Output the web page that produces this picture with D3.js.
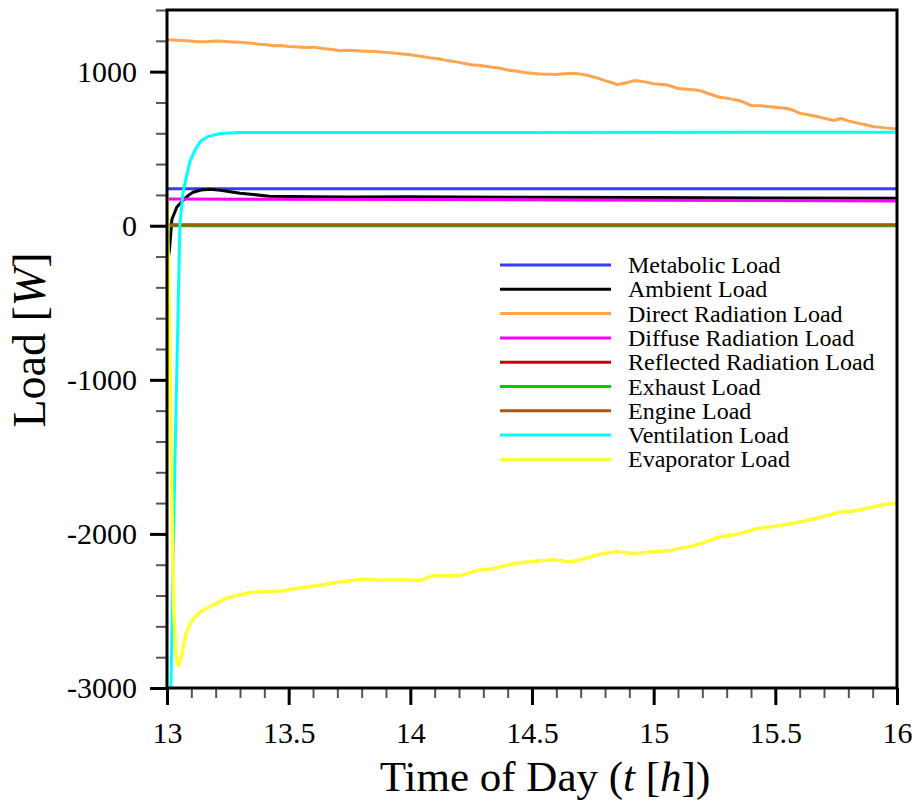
<!DOCTYPE html>
<html>
<head>
<meta charset="utf-8">
<script src="https://cdn.jsdelivr.net/npm/d3@7"></script>
<style>
  body { margin: 0; background: #fff; }
  text { font-family: "Liberation Serif", "Times New Roman", serif; fill: #000; }
</style>
</head>
<body>
<div id="chart-area"></div>
<script>
//============================DATA============================
var seriesNames = ["Metabolic Load", "Ambient Load", "Direct Radiation Load", "Diffuse Radiation Load",
    "Reflected Radiation Load", "Exhaust Load", "Engine Load", "Ventilation Load", "Evaporator Load"];
var seriesColors = ["#3a3aff", "#000000", "#ffa54f", "#ff00ff", "#cc0000", "#00cc00", "#a5580f", "#00ffff", "#ffff33"];

// [time of day (h), load (W)]
var metabolic = [[13.0, 240], [16.0, 240]];
var ambient = [[13.0, -260], [13.01, -160], [13.02, 40], [13.04, 120], [13.066, 165], [13.09, 200], [13.107, 217],
    [13.14, 232], [13.177, 237], [13.22, 230], [13.3, 211], [13.42, 192], [13.6, 188], [13.75, 186], [14.0, 188],
    [14.5, 185], [15.0, 183], [15.5, 180], [16.0, 178]];
var direct = [[13.0, 1207], [13.04, 1203], [13.08, 1200], [13.12, 1196], [13.16, 1194], [13.2, 1199], [13.23, 1197],
    [13.27, 1193], [13.3, 1190], [13.34, 1186], [13.37, 1180], [13.41, 1175], [13.44, 1168], [13.47, 1170],
    [13.5, 1163], [13.54, 1160], [13.57, 1157], [13.6, 1159], [13.64, 1150], [13.68, 1144], [13.71, 1136],
    [13.75, 1138], [13.8, 1134], [13.85, 1130], [13.9, 1125], [13.95, 1118], [14.0, 1110], [14.04, 1100],
    [14.08, 1090], [14.12, 1082], [14.16, 1070], [14.2, 1060], [14.25, 1045], [14.29, 1040], [14.33, 1030],
    [14.37, 1022], [14.4, 1010], [14.44, 1003], [14.47, 995], [14.5, 990], [14.53, 985], [14.57, 983],
    [14.6, 981], [14.63, 986], [14.67, 990], [14.7, 984], [14.73, 975], [14.77, 958], [14.8, 942], [14.83, 928],
    [14.85, 916], [14.88, 925], [14.92, 942], [14.96, 935], [15.0, 922], [15.05, 915], [15.08, 902], [15.1, 890],
    [15.15, 884], [15.19, 877], [15.23, 855], [15.27, 834], [15.31, 825], [15.35, 813], [15.38, 795], [15.4, 780],
    [15.44, 778], [15.47, 774], [15.51, 768], [15.55, 761], [15.58, 745], [15.6, 730], [15.64, 718], [15.68, 705],
    [15.71, 694], [15.74, 683], [15.77, 696], [15.8, 680], [15.84, 666], [15.87, 655], [15.9, 644], [15.95, 635],
    [16.0, 628]];
var diffuse = [[13.0, 173], [14.0, 170], [15.0, 166], [16.0, 160]];
var reflected = [[13.0, 4], [16.0, 4]];
var exhaust = [[13.0, 0], [16.0, 0]];
var engine = [[13.0, 5], [16.0, 5]];
var ventilation = [[13.0, -4200], [13.016, -3000], [13.033, -1500], [13.045, -600], [13.053, 0], [13.066, 220],
    [13.08, 320], [13.095, 420], [13.115, 490], [13.136, 545], [13.17, 580], [13.22, 598], [13.3, 605], [16.0, 607]];
var evaporator = [[13.0, 200], [13.005, -200], [13.012, -900], [13.02, -1800], [13.028, -2500], [13.036, -2780],
    [13.047, -2855], [13.056, -2820], [13.066, -2740], [13.08, -2640], [13.1, -2570], [13.12, -2530], [13.14, -2504],
    [13.18, -2470], [13.24, -2420], [13.3, -2395], [13.34, -2380], [13.4, -2375], [13.47, -2370], [13.55, -2350],
    [13.64, -2330], [13.72, -2310], [13.8, -2295], [13.88, -2300], [13.96, -2297], [14.04, -2303], [14.09, -2272],
    [14.2, -2272], [14.29, -2232], [14.34, -2226], [14.42, -2194], [14.48, -2182], [14.59, -2168], [14.66, -2182],
    [14.72, -2160], [14.78, -2130], [14.85, -2116], [14.92, -2128], [14.99, -2115], [15.06, -2110], [15.14, -2084],
    [15.2, -2060], [15.27, -2020], [15.35, -2000], [15.42, -1968], [15.5, -1950], [15.6, -1922], [15.68, -1895],
    [15.76, -1860], [15.83, -1850], [15.9, -1826], [15.95, -1808], [16.0, -1800]];
var seriesData = [metabolic, ambient, direct, diffuse, reflected, exhaust, engine, ventilation, evaporator];

var xMajorTicks = [13, 13.5, 14, 14.5, 15, 15.5, 16];
var yMajorTicks = [-3000, -2000, -1000, 0, 1000];

//============================LAYOUT============================
var margins = { left: 167, right: 20, top: 10, bottom: 116 };
var width = 917 - margins.left - margins.right;
var height = 804 - margins.top - margins.bottom;

var svg = d3.select("#chart-area")
    .append("svg")
    .attr("width", 917)
    .attr("height", 804);

var g = svg.append("g")
    .attr("transform", "translate(" + margins.left + ", " + margins.top + ")");

var x = d3.scaleLinear().domain([13, 16]).range([0, width]);
var y = d3.scaleLinear().domain([-3000, 1400]).range([height, 0]);

g.append("clipPath").attr("id", "plot-clip")
    .append("rect").attr("width", width).attr("height", height);

// lines
var line = d3.line()
    .x(function(d){ return x(d[0]); })
    .y(function(d){ return y(d[1]); });

g.append("g").attr("clip-path", "url(#plot-clip)")
    .selectAll("path")
    .data(seriesData)
    .enter()
    .append("path")
    .attr("d", line)
    .attr("fill", "none")
    .attr("stroke", function(d, i){ return seriesColors[i]; })
    .attr("stroke-width", function(d, i){ return i === 8 ? 3.5 : 3; })
    .attr("stroke-linejoin", "round");

// minor ticks
var xMinor = d3.axisBottom(x).tickValues(d3.range(13, 16.001, 0.1)).tickSize(10).tickFormat("");
var yMinor = d3.axisLeft(y).tickValues(d3.range(-3000, 1401, 200)).tickSize(11).tickFormat("");
g.append("g").attr("class", "minor").attr("transform", "translate(0," + height + ")").call(xMinor);
g.append("g").attr("class", "minor").call(yMinor);
g.selectAll(".minor path").remove();
g.selectAll(".minor line").attr("stroke", "#555").attr("stroke-width", 2);

// major ticks + labels
var xAxisCall = d3.axisBottom(x).tickValues(xMajorTicks).tickSize(17).tickPadding(17)
    .tickFormat(function(d){ return String(d); });
var yAxisCall = d3.axisLeft(y).tickValues(yMajorTicks).tickSize(17).tickPadding(13)
    .tickFormat(function(d){ return String(d); });
g.append("g").attr("class", "major").attr("transform", "translate(0," + height + ")").call(xAxisCall);
g.append("g").attr("class", "major").call(yAxisCall);
g.selectAll(".major path").remove();
g.selectAll(".major line").attr("stroke", "#000").attr("stroke-width", 3);
g.selectAll(".major text")
    .attr("font-family", "'Liberation Serif', 'Times New Roman', serif")
    .attr("font-size", "30px")
    .attr("fill", "#000");

// frame
g.append("rect")
    .attr("width", width)
    .attr("height", height)
    .attr("fill", "none")
    .attr("stroke", "#000")
    .attr("stroke-width", 3);

// axis titles
var xTitle = svg.append("text")
    .attr("x", 545)
    .attr("y", 791)
    .attr("text-anchor", "middle")
    .attr("font-size", "43px");
xTitle.append("tspan").text("Time of Day (");
xTitle.append("tspan").attr("font-style", "italic").text("t");
xTitle.append("tspan").text(" [");
xTitle.append("tspan").attr("font-style", "italic").text("h");
xTitle.append("tspan").text("])");

var yTitle = svg.append("text")
    .attr("transform", "translate(45,340) rotate(-90)")
    .attr("text-anchor", "middle")
    .attr("font-size", "46px");
yTitle.append("tspan").text("Load [");
yTitle.append("tspan").attr("font-style", "italic").text("W");
yTitle.append("tspan").text("]");

// legend
var legendTop = 265, legendStep = 24.3;
var legend = svg.append("g");
seriesNames.forEach(function(name, i){
    var ly = legendTop + i * legendStep;
    legend.append("line")
        .attr("x1", 500).attr("x2", 611)
        .attr("y1", ly).attr("y2", ly)
        .attr("stroke", seriesColors[i])
        .attr("stroke-width", 3);
    legend.append("text")
        .attr("x", 628)
        .attr("y", ly + 8)
        .attr("font-size", "24px")
        .text(name);
});
</script>
</body>
</html>
